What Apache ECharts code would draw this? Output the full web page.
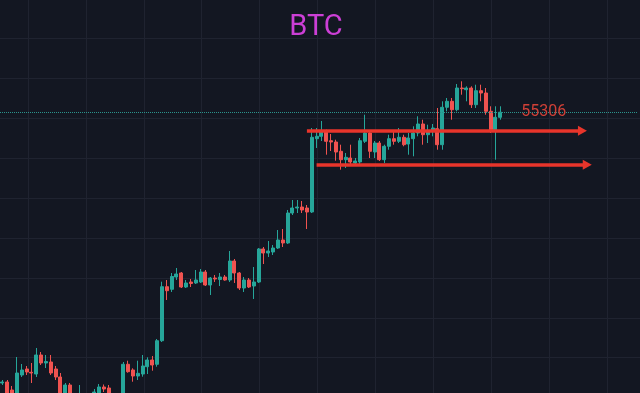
<!DOCTYPE html>
<html><head><meta charset="utf-8">
<script src="https://cdn.jsdelivr.net/npm/echarts@6/dist/echarts.min.js"></script>
<style>html,body{margin:0;padding:0;background:#131722;}#c{width:640px;height:393px;}</style>
</head><body><div id="c"></div>
<script>
// Candle values
const openP = [41732,41782,41381,40980,42133,42434,42268,42183,43136,42735,42785,42434,42033,40980,41632,40980,40680,41030,40730,40579,41131,41532,41482,40980,40680,40880,42670,42384,42083,42183,42549,42885,42670,43852,46559,46429,47045,47246,46544,46795,46745,46795,47296,46644,46995,46920,47045,46895,47847,47246,46494,46895,46594,46795,48449,48248,48299,48499,48900,48750,50253,50504,50554,50504,50304,53978,54098,54379,53877,53812,53346,52925,53010,52760,52810,53847,54263,53311,53762,52925,53597,53978,53847,54048,53712,53978,54263,54715,54178,54379,54479,53677,55552,55852,55431,56519,56434,56519,55682,56384,56268,55351,54429,55050];
const closeP = [41782,41030,40880,42233,42384,42284,42233,43136,42735,42810,42233,42033,41081,41632,40980,40629,41081,40730,40479,41281,41532,41431,40980,40680,40880,42670,42299,42083,42218,42584,42885,42634,43852,46559,46359,47070,47196,46544,46745,46720,46895,47296,46644,46995,46945,47045,46895,47847,47246,46494,46895,46544,46795,48449,48248,48349,48499,48900,48750,50253,50504,50554,50404,50304,54048,54098,54379,53847,53812,53311,52925,53045,52810,52860,53877,54263,53346,53762,52925,53597,53978,53847,54048,53677,54013,54263,54715,54178,54349,54514,53677,55552,55852,55431,56519,56484,56519,55682,56384,56268,55351,54429,55050,55306];
const lowP = [41632,40880,40680,40780,42033,42133,41732,42033,42634,42484,42133,41882,40880,40780,40680,40479,40529,40529,40329,40429,40980,41281,40780,40479,40379,40629,42248,41797,41882,42048,42183,42349,42549,43787,45893,46294,46895,46494,46494,46544,46695,46745,46594,46143,46795,46594,46860,46795,46745,46394,46294,46494,45943,46745,47697,48048,48148,48449,48549,48700,50153,50253,50253,49451,50253,53512,53862,53176,53361,52875,52424,52509,52710,52710,52710,53762,53010,53010,52860,52760,53426,53677,53762,53597,53176,53096,54098,53677,53762,54098,53426,53426,55351,54930,55351,56183,55852,55517,55517,55852,55181,54263,52925,54930];
const highP = [41882,41882,41582,43035,42685,42584,42735,43487,43286,43136,43136,42584,42233,41732,41732,41131,41632,41231,40930,41431,41682,41657,41632,41181,41081,42785,42850,42469,42850,43136,43020,43086,43938,46810,46895,47246,47497,47296,46895,46945,47396,47446,47396,47045,47146,47246,47146,48349,47948,47296,47045,46995,47547,48499,48549,48850,48649,49401,49451,50404,50905,50905,50855,50654,54514,54514,54865,54429,54213,53928,53677,53261,53677,53010,54013,55181,54349,53862,53862,53677,54178,54379,54514,54178,54263,54599,55101,54930,54679,54715,55517,55852,56018,56018,56720,56855,56604,56604,56684,56684,56519,55602,55602,55602];
// 104 candle slots plus empty slots to the right edge of the chart
const slotCount = 132;
const categories = Array.from({length: slotCount}, (_, i) => 'C' + (i + 1));
const titleText = 'BTC';
const lastPrice = 55306;
const levelUpper = 54379;
const levelLower = 52675;
const levelUpperRange = [63, 120];
const levelLowerRange = [65, 121];
const lastPriceLabelAt = 112;
const priceTop = 60930;
const priceBottom = 41231;

const ohlc = openP.map((o, i) => [o, closeP[i], lowP[i], highP[i]]);
const gridColor = '#1f2330';
const arrowColor = '#e8352b';
const arrowLine = (price, range) => [
  {coord: [range[0], price], symbol: 'none', lineStyle: {color: arrowColor, width: 3.5, type: 'solid'}},
  {coord: [range[1], price], symbol: 'triangle', symbolSize: [10, 9], lineStyle: {color: arrowColor, width: 3.5, type: 'solid'}}
];
const hidden = {axisLine: {show: false}, axisTick: {show: false}, axisLabel: {show: false}};
const split = {show: true, lineStyle: {color: gridColor, width: 1}};

const chart = echarts.init(document.getElementById('c'), null, {renderer: 'canvas'});
chart.setOption({
  animation: false,
  backgroundColor: '#131722',
  title: {
    text: titleText, left: 311, top: 8, textAlign: 'center',
    textStyle: {color: '#cc3fd6', fontSize: 29, fontWeight: 'normal', fontFamily: 'Roboto'}
  },
  grid: [
    {left: 0, width: 638, top: 0, height: 393},
    {left: 28, width: 579, top: 0, height: 393},
    {left: 0, width: 640, top: 38.5, height: 319.2}
  ],
  xAxis: [
    {type: 'category', gridIndex: 0, data: categories, show: false},
    Object.assign({type: 'value', gridIndex: 1, min: 0, max: 10, interval: 1, splitLine: split}, hidden),
    Object.assign({type: 'value', gridIndex: 2, min: 0, max: 1, splitLine: {show: false}}, hidden)
  ],
  yAxis: [
    {type: 'value', gridIndex: 0, min: priceBottom, max: priceTop, show: false},
    Object.assign({type: 'value', gridIndex: 1, min: 0, max: 1, splitLine: {show: false}}, hidden),
    Object.assign({type: 'value', gridIndex: 2, min: 0, max: 8, interval: 1, splitLine: split}, hidden)
  ],
  series: [{
    type: 'candlestick', xAxisIndex: 0, yAxisIndex: 0, data: ohlc, barWidth: 3.5,
    itemStyle: {color: '#26a69a', color0: '#ef5350', borderColor: '#26a69a', borderColor0: '#ef5350', borderWidth: 1},
    markLine: {
      silent: true, animation: false, symbol: ['none', 'none'],
      label: {show: false},
      data: [
        {yAxis: lastPrice, lineStyle: {color: '#2b938c', type: 'dotted', width: 1}},
        arrowLine(levelUpper, levelUpperRange),
        arrowLine(levelLower, levelLowerRange)
      ]
    },
    markPoint: {
      silent: true, symbol: 'circle', symbolSize: 1,
      itemStyle: {color: 'rgba(0,0,0,0)'},
      label: {show: true, position: 'inside', formatter: String(lastPrice), color: '#cf4037', fontSize: 16, fontFamily: 'Roboto'},
      data: [{coord: [lastPriceLabelAt, lastPrice]}]
    }
  }]
});
</script></body></html>
